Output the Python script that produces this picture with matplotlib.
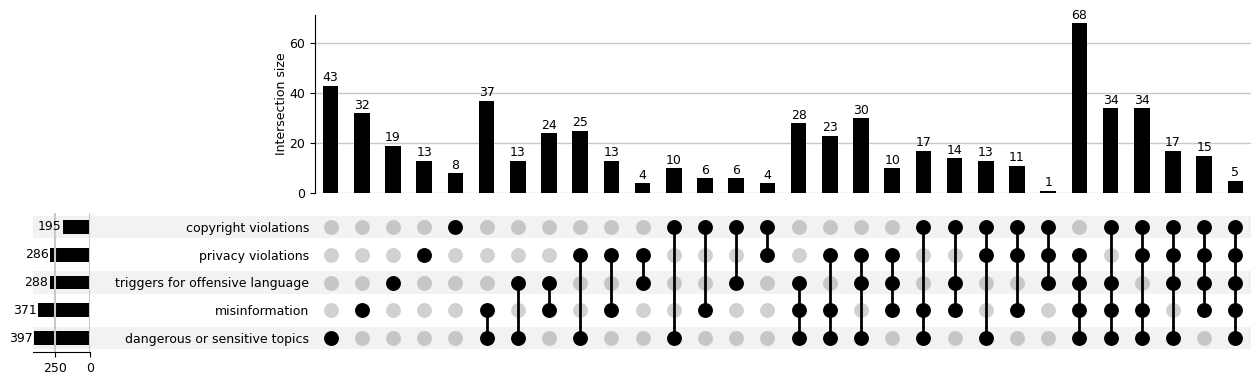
import matplotlib
matplotlib.use("Agg")
import matplotlib.pyplot as plt
from matplotlib.ticker import MultipleLocator

# categories from bottom row to top row
categories = [
    "dangerous or sensitive topics",
    "misinformation",
    "triggers for offensive language",
    "privacy violations",
    "copyright violations",
]
keys = ["D", "M", "T", "P", "C"]
totals = [397, 371, 288, 286, 195]

memberships = [
    "D", "M", "T", "P", "C", "MD", "TD", "TM", "PD", "PM", "PT", "CD", "CM", "CT", "CP",
    "TMD", "PMD", "PTD", "PTM", "CMD", "CTM", "CPD", "CPM", "CPT",
    "PTMD", "CTMD", "CPMD", "CPTD", "CPTM", "CPTMD",
]
sizes = [43, 32, 19, 13, 8, 37, 13, 24, 25, 13, 4, 10, 6, 6, 4,
         28, 23, 30, 10, 17, 14, 13, 11, 1,
         68, 34, 34, 17, 15, 5]

FS = 9
W, H = 1260, 386
fig = plt.figure(figsize=(W / 100, H / 100), dpi=100)


def box(x0, y0, x1, y1):
    # pixel box (top-left origin) -> figure fraction
    return [x0 / W, 1 - y1 / H, (x1 - x0) / W, (y1 - y0) / H]


ncols = len(sizes)
nrows = len(categories)

# shading stripes behind totals + labels + matrix
shade_ax = fig.add_axes(box(33, 213, 1251, 352))
shade_ax.set_ylim(-0.5, nrows - 0.5)
shade_ax.set_xlim(0, 1)
for i in range(0, nrows, 2):
    shade_ax.axhspan(i - 0.4, i + 0.4, color="#f2f2f2", lw=0)
shade_ax.axis("off")

# intersection size bars
bar_ax = fig.add_axes(box(315, 15, 1251, 193))
xs = list(range(ncols))
bars = bar_ax.bar(xs, sizes, width=0.5, color="black", zorder=3)
bar_ax.bar_label(bars, padding=1, fontsize=FS)
bar_ax.set_xlim(-0.5, ncols - 0.5)
bar_ax.set_ylim(0, max(sizes) * 1.05)
bar_ax.yaxis.set_major_locator(MultipleLocator(20))
bar_ax.grid(axis="y", color="#c8c8c8", lw=1)
bar_ax.set_axisbelow(True)
bar_ax.set_xticks([])
for s in ["top", "right", "bottom"]:
    bar_ax.spines[s].set_visible(False)
bar_ax.tick_params(axis="y", labelsize=FS)
bar_ax.set_ylabel("Intersection size", fontsize=FS, labelpad=1)

# matrix
mat_ax = fig.add_axes(box(315, 213, 1251, 352))
mat_ax.patch.set_alpha(0)
mat_ax.set_xlim(-0.5, ncols - 0.5)
mat_ax.set_ylim(-0.5, nrows - 0.5)
for j, m in enumerate(memberships):
    for r, k in enumerate(keys):
        if k not in m:
            mat_ax.scatter(j, r, s=115, color="black", alpha=0.18, lw=0, zorder=2)
    rows_in = [r for r, k in enumerate(keys) if k in m]
    if len(rows_in) > 1:
        mat_ax.plot([j, j], [min(rows_in), max(rows_in)], color="black", lw=2, zorder=3)
    mat_ax.scatter([j] * len(rows_in), rows_in, s=115, color="black", lw=0, zorder=4)
mat_ax.set_xticks([])
mat_ax.set_yticks(range(nrows))
mat_ax.set_yticklabels(categories, fontsize=FS)
mat_ax.tick_params(axis="y", length=0, pad=4)
for s in mat_ax.spines.values():
    s.set_visible(False)

# set totals
tot_ax = fig.add_axes(box(33, 213, 90, 352))
tot_ax.patch.set_alpha(0)
tot_ax.barh(range(nrows), totals, height=0.5, color="black", zorder=2)
for r, t in enumerate(totals):
    tot_ax.annotate(str(t), (t, r), xytext=(-1, 0), textcoords="offset points",
                    ha="right", va="center", fontsize=FS, zorder=5)
tot_ax.set_xlim(max(totals) * 1.025, 0)
tot_ax.set_ylim(-0.5, nrows - 0.5)
tot_ax.xaxis.set_major_locator(MultipleLocator(250))
tot_ax.grid(axis="x", color="#c8c8c8", lw=1.5, zorder=3)
tot_ax.set_axisbelow(False)
tot_ax.set_yticks([])
for s in ["top", "right", "left"]:
    tot_ax.spines[s].set_visible(False)
tot_ax.tick_params(axis="x", labelsize=FS)

fig.savefig("out.png", dpi=100)
